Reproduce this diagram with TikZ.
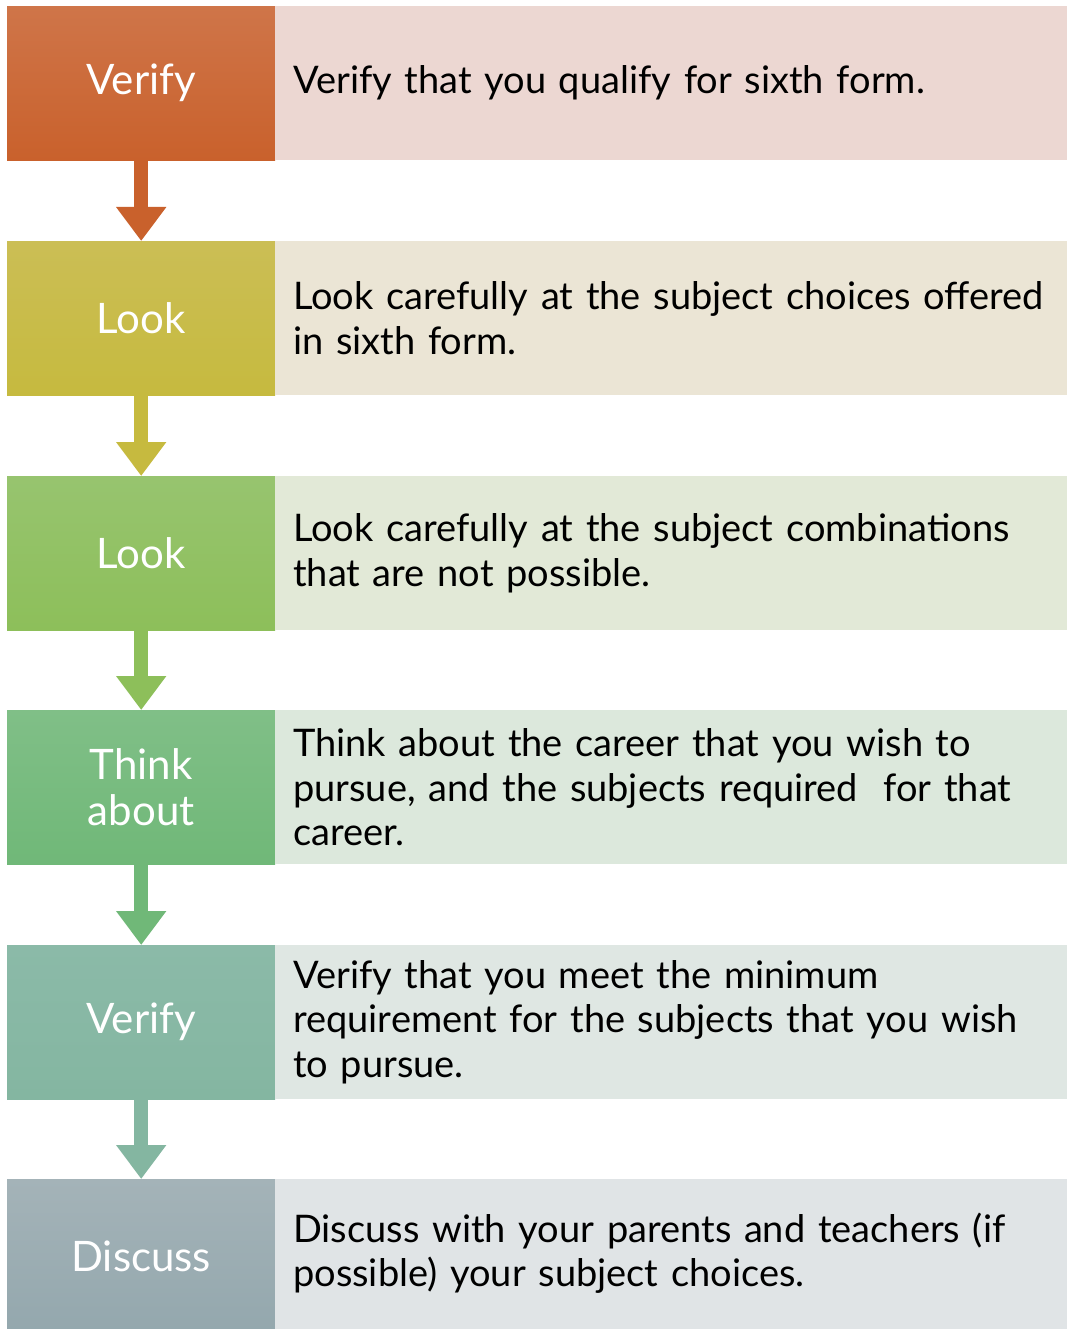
\documentclass[tikz,border=0pt]{standalone}
\usepackage{fontspec}
\setmainfont{Lato}
\usetikzlibrary{arrows.meta}
\definecolor{aT}{RGB}{207,117,73}\definecolor{aB}{RGB}{201,97,44}\definecolor{aR}{RGB}{236,215,210}
\definecolor{bT}{RGB}{203,190,85}\definecolor{bB}{RGB}{198,186,63}\definecolor{bR}{RGB}{235,229,213}
\definecolor{cT}{RGB}{151,196,111}\definecolor{cB}{RGB}{141,191,90}\definecolor{cR}{RGB}{226,233,215}
\definecolor{dT}{RGB}{128,191,135}\definecolor{dB}{RGB}{112,184,120}\definecolor{dR}{RGB}{220,232,220}
\definecolor{eT}{RGB}{139,186,168}\definecolor{eB}{RGB}{132,182,161}\definecolor{eR}{RGB}{223,231,227}
\definecolor{fT}{RGB}{164,179,184}\definecolor{fB}{RGB}{147,167,173}\definecolor{fR}{RGB}{224,228,230}
\tikzset{
  stepbox/.style={rectangle, anchor=north west, minimum width=268pt, minimum height=154pt,
    inner sep=0pt, text=white, align=center, font=\fontsize{42}{52}\selectfont},
  descbox/.style={rectangle, anchor=north west, minimum width=792pt, minimum height=154pt,
    inner xsep=18pt, inner ysep=0pt, text width=756pt, align=left, text=black,
    font=\fontsize{38}{44.5}\selectfont},
  flow/.style={line width=14pt, -{Triangle[width=48pt,length=34pt]}, shorten <=-0.5pt}
}
\begin{document}
\begin{tikzpicture}[x=1pt,y=-1pt]
\useasboundingbox[fill=white] (0,0) rectangle (1068,1329);
\node[stepbox, top color=aT, bottom color=aB] (L1) at (7,6) {Verify};
\node[descbox, fill=aR] (R1) at (275,6) {Verify that you qualify for sixth form.};
\node[stepbox, top color=bT, bottom color=bB] (L2) at (7,241) {Look};
\node[descbox, fill=bR] (R2) at (275,241) {Look carefully at the subject choices offered\\in sixth form.};
\node[stepbox, top color=cT, bottom color=cB] (L3) at (7,476) {Look};
\node[descbox, fill=cR] (R3) at (275,476) {Look carefully at the subject combinations\\that are not possible.};
\node[stepbox, top color=dT, bottom color=dB] (L4) at (7,710) {Think\\[-6pt]about};
\node[descbox, fill=dR] (R4) at (275,710) {Think about the career that you wish to\\pursue, and the subjects required\ \ for that\\career.};
\node[stepbox, top color=eT, bottom color=eB] (L5) at (7,945) {Verify};
\node[descbox, fill=eR] (R5) at (275,945) {Verify that you meet the minimum\\requirement for the subjects that you wish\\to pursue.};
\node[stepbox, minimum height=160pt, top color=fT, bottom color=fB] (L6) at (7,1179) {\raisebox{6pt}{Discuss}};
\node[descbox, minimum height=160pt, fill=fR] (R6) at (275,1179) {Discuss with your parents and teachers (if\\possible) your subject choices.\vspace{12pt}};
\draw[flow, aB] (L1.south) -- (L2.north);
\draw[flow, bB] (L2.south) -- (L3.north);
\draw[flow, cB] (L3.south) -- (L4.north);
\draw[flow, dB] (L4.south) -- (L5.north);
\draw[flow, eB] (L5.south) -- (L6.north);
\end{tikzpicture}
\end{document}
